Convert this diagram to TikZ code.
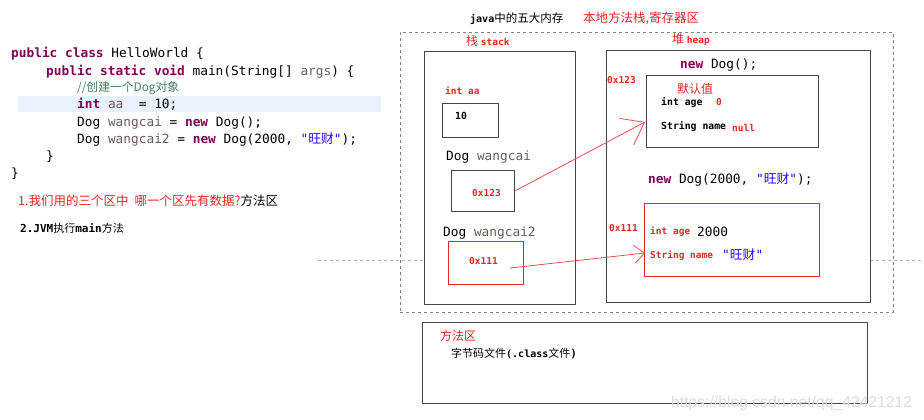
\documentclass[tikz,border=0pt]{standalone}
\usepackage{fontspec}
\setmonofont{DejaVu Sans Mono}
\newfontfamily\cjk{Noto Sans CJK SC}
\newfontfamily\wmfont{Liberation Sans}
\usetikzlibrary{arrows.meta}
\definecolor{memred}{RGB}{232,36,36}
\definecolor{linkred}{RGB}{232,80,80}
\definecolor{kwpurple}{RGB}{127,0,85}
\definecolor{strblue}{RGB}{42,0,255}
\definecolor{cmtgreen}{RGB}{63,127,95}
\definecolor{vargray}{RGB}{106,90,90}
\definecolor{linebg}{RGB}{232,241,252}
\definecolor{boxgray}{RGB}{70,70,70}
\newcommand\kw[1]{\textcolor{kwpurple}{\bfseries #1}}
\newcommand\vr[1]{\textcolor{vargray}{#1}}
\newcommand\zh[1]{{\cjk #1}}
\begin{document}
\begin{tikzpicture}[x=1pt,y=-1pt,line join=round,
    code/.style={font=\ttfamily\fontsize{12.8}{14}\selectfont,anchor=base west,inner sep=0},
    tag/.style={font=\ttfamily\bfseries\fontsize{9.5}{11}\selectfont,text=memred,anchor=base west,inner sep=0},
    field/.style={font=\ttfamily\bfseries\fontsize{9.8}{11}\selectfont,anchor=base west,inner sep=0},
    zh/.style={font=\cjk\fontsize{12}{14}\selectfont,anchor=base west,inner sep=0},
    box/.style={draw=boxgray,line width=0.9pt,anchor=north west,inner sep=0},
    link/.style={draw=linkred,line width=0.8pt}]
  \useasboundingbox (0,0) rectangle (924,420);
  % source code
  \fill[linebg] (18,96) rectangle (381,112);
  \node[code] (l1) at (11,58) {\kw{public} \kw{class} HelloWorld \{};
  \node[code] (l2) at (46,75) {\kw{public} \kw{static} \kw{void} main(String[] \vr{args}) \{};
  \node[zh,font=\cjk\fontsize{11.8}{13}\selectfont,text=cmtgreen] (l3) at (77,92) {//创建一个Dog对象};
  \node[code] (l4) at (77,109) {\kw{int} \vr{aa}~~= 10;};
  \node[code] (l5) at (77,126) {Dog \vr{wangcai} = \kw{new} Dog();};
  \node[code] (l6) at (77,143) {Dog \vr{wangcai2} = \kw{new} Dog(2000, \textcolor{strblue}{"\zh{旺财}"});};
  \node[code] (l7) at (46,160) {\}};
  \node[code] (l8) at (11,177) {\}};
  \node[zh,font=\cjk\fontsize{12.5}{14}\selectfont] (q1) at (18,205) {\textcolor{memred}{1.我们用的三个区中\hspace{6pt}哪一个区先有数据?}方法区};
  \node[zh,font=\cjk\fontsize{11}{13}\selectfont] (q2) at (20,232) {\ttfamily\bfseries 2.JVM\cjk\mdseries 执行\ttfamily\bfseries main\cjk\mdseries 方法};
  \draw[gray!60,dashed] (318,260) -- (424,260) (870,260) -- (924,260);
  % memory
  \node[zh,font=\cjk\fontsize{11.5}{13}\selectfont] (title) at (470,23) {\ttfamily\bfseries\fontsize{10}{12}\selectfont java\cjk\mdseries\fontsize{11.5}{13}\selectfont 中的五大内存};
  \node[zh,font=\cjk\fontsize{12.5}{14}\selectfont,text=memred] (native) at (583,23) {本地方法栈,寄存器区};
  \node[box,draw=gray,line width=0.7pt,dashed,minimum width=493,minimum height=280] (mem) at (400,32) {};
  % stack
  \node[zh,text=memred] (stacklbl) at (466,46) {栈 \ttfamily\bfseries\fontsize{9.5}{11}\selectfont stack};
  \node[box,minimum width=151,minimum height=253] (stack) at (424,51) {};
  \node[tag] (aalbl) at (445,95) {int aa};
  \node[box,minimum width=56,minimum height=34] (aa) at (442,103) {};
  \node[field] (aaval) at (455,119) {10};
  \node[code] (wclbl) at (446,160) {Dog \vr{wangcai}};
  \node[box,minimum width=63,minimum height=41] (ref1) at (451,170) {};
  \node[tag] (addr1) at (472,196) {0x123};
  \node[code] (wc2lbl) at (443,236) {Dog \vr{wangcai2}};
  \node[box,draw=memred,line width=0.8pt,minimum width=75,minimum height=43] (ref2) at (448,241) {};
  \node[tag] (addr2) at (469,264) {0x111};
  % heap
  \node[zh,text=memred] (heaplbl) at (672,44) {堆 \ttfamily\bfseries\fontsize{9.5}{11}\selectfont heap};
  \node[box,minimum width=264,minimum height=252] (heap) at (606,50) {};
  \node[code] (new1) at (680,69) {\kw{new} Dog();};
  \node[tag] (obj1addr) at (607,84) {0x123};
  \node[box,minimum width=172,minimum height=72] (obj1) at (646,75) {};
  \node[zh,text=memred] (dflt) at (677,93) {默认值};
  \node[field] (age1) at (661,105) {int age};
  \node[tag] (age1val) at (716,106) {0};
  \node[field] (name1) at (661,129) {String name};
  \node[tag] (name1val) at (732,131) {null};
  \node[code] (new2) at (648,183) {\kw{new} Dog(2000, \textcolor{strblue}{"\zh{旺财}"});};
  \node[tag] (obj2addr) at (609,231) {0x111};
  \node[box,draw=memred,line width=0.8pt,minimum width=175,minimum height=73] (obj2) at (644,203) {};
  \node[tag] (age2) at (650,234) {int age};
  \node[code] (age2val) at (697,236) {2000};
  \node[tag] (name2) at (650,258) {String name};
  \node[code,text=strblue] (name2val) at (722,259) {"\zh{旺财}"};
  % references
  \coordinate (tip1) at (645,122);
  \coordinate (tail2) at (510,268);
  \coordinate (tip2) at (645,253);
  \draw[link,-{Straight Barb[length=20pt,width=30pt]}] (ref1.east) -- (tip1);
  \draw[link,-{Straight Barb[length=10pt,width=18pt]}] (tail2) -- (tip2);
  % method area
  \node[box,minimum width=445,minimum height=81] (method) at (422,322) {};
  \node[zh,text=memred] (methodlbl) at (440,340) {方法区};
  \node[zh,font=\cjk\fontsize{11}{13}\selectfont] (bytecode) at (451,357) {字节码文件\ttfamily\bfseries\fontsize{10}{12}\selectfont(.class\cjk\mdseries\fontsize{11}{13}\selectfont 文件\ttfamily\bfseries)};
  \node[anchor=base west,inner sep=0,text=black!14,font=\wmfont\fontsize{15.7}{18}\selectfont] (wm) at (671,407) {https://blog.csdn.net/qq\_42421212};
\end{tikzpicture}
\end{document}
